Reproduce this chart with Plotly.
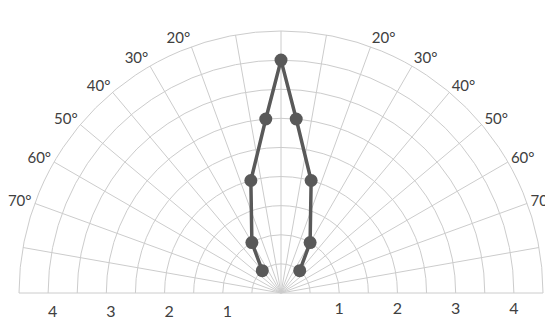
import plotly.graph_objects as go

# ---- data ----
theta_deg = [-40, -30, -15, -5, 0, 5, 15, 30, 40]
r_values = [0.5, 1.0, 2.0, 3.0, 4.0, 3.0, 2.0, 1.0, 0.5]

angle_ticks = [-80, -70, -60, -50, -40, -30, -20, -10, 0, 10, 20, 30, 40, 50, 60, 70, 80]
angle_labels = ["", "70°", "60°", "50°", "40°", "30°", "20°", "", "", "", "20°", "30°", "40°", "50°", "60°", "70°", ""]

radial_ticks = [0.5, 1, 1.5, 2, 2.5, 3, 3.5, 4, 4.5]
radial_labels = ["", "1", "", "2", "", "3", "", "4", ""]
radial_max = 4.5

GRID = "#cccccc"
TEXT = "#404040"
LINE = "#595959"
FONT = "Lato"

fig = go.Figure()
fig.add_trace(go.Scatterpolar(
    r=r_values, theta=theta_deg, mode="lines+markers",
    line=dict(color=LINE, width=3.5),
    marker=dict(color=LINE, size=13),
    subplot="polar", showlegend=False, hoverinfo="skip",
))
fig.add_trace(go.Scatterpolar(
    r=[None], theta=[None], mode="markers",
    subplot="polar2", showlegend=False, hoverinfo="skip",
))

fig.update_layout(
    width=545, height=312,
    margin=dict(l=11, r=10, t=23, b=27),
    paper_bgcolor="white",
    template="none",
    polar=dict(
        domain=dict(x=[0, 1], y=[0, 1]),
        sector=[0, 180],
        bgcolor="rgba(0,0,0,0)",
        angularaxis=dict(
            rotation=90, direction="clockwise", thetaunit="degrees",
            tickvals=angle_ticks, ticktext=angle_labels, ticks="",
            showgrid=True, gridcolor=GRID, gridwidth=1,
            showline=True, linecolor=GRID, linewidth=1,
            tickfont=dict(family=FONT, size=15, color=TEXT),
        ),
        radialaxis=dict(
            range=[0, radial_max], angle=0, side="clockwise",
            tickvals=radial_ticks, ticktext=radial_labels,
            showgrid=True, gridcolor=GRID, gridwidth=1,
            showline=False, ticks="outside", ticklen=1, tickcolor="rgba(0,0,0,0)",
            tickfont=dict(family=FONT, size=16, color=TEXT),
            tickangle=0,
        ),
    ),
    polar2=dict(
        domain=dict(x=[0, 1], y=[0, 1]),
        sector=[0, 180],
        bgcolor="rgba(0,0,0,0)",
        angularaxis=dict(rotation=90, direction="clockwise", showgrid=False,
                         showline=False, showticklabels=False, ticks=""),
        radialaxis=dict(
            range=[0, radial_max], angle=180, side="counterclockwise",
            tickvals=radial_ticks, ticktext=radial_labels,
            showgrid=False, showline=False,
            ticks="outside", ticklen=1, tickcolor="rgba(0,0,0,0)",
            tickfont=dict(family=FONT, size=16, color=TEXT),
            tickangle=180,
        ),
    ),
)

fig.write_html("out.html")
